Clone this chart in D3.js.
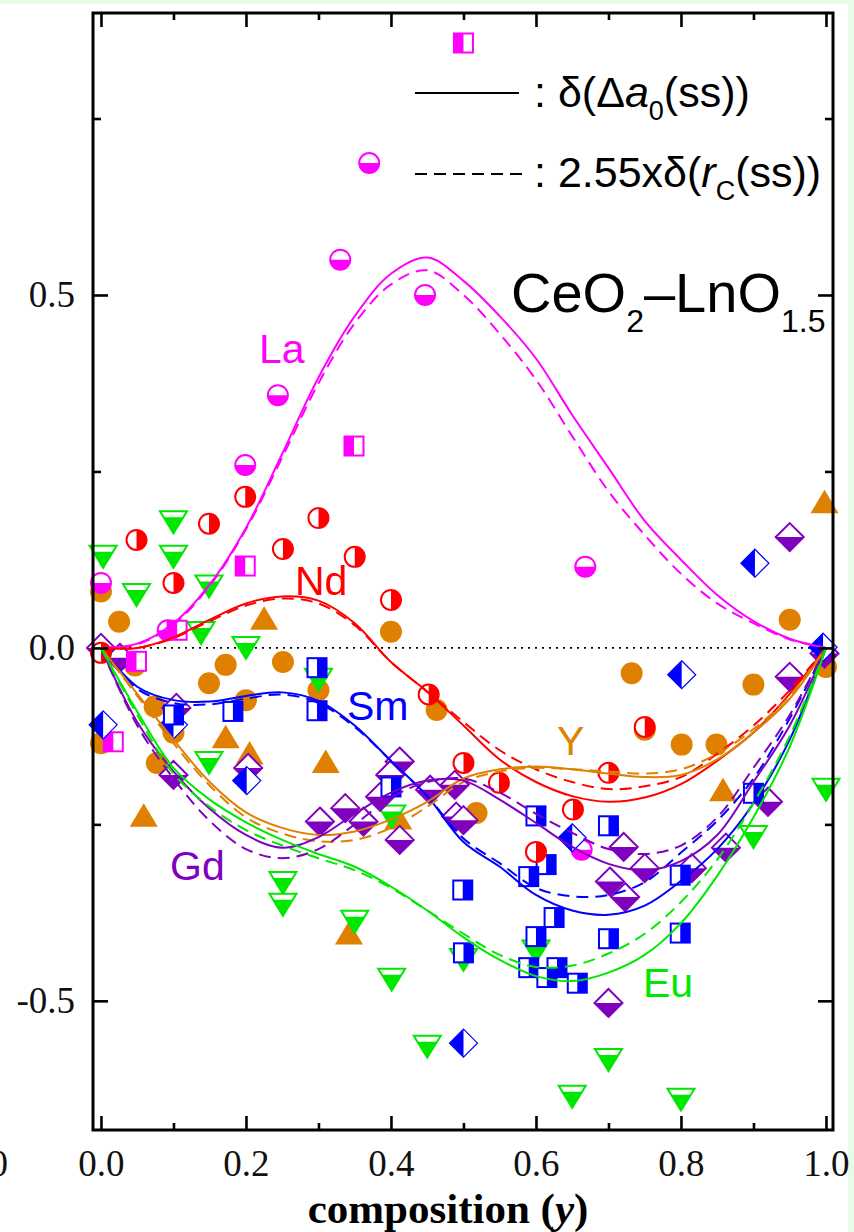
<!DOCTYPE html>
<html>
<head>
<meta charset="utf-8">
<script src="https://cdn.jsdelivr.net/npm/d3@7"></script>
<style>
  body { margin: 0; background: #fff; }
  text { font-family: "Liberation Sans", Arial, sans-serif; }
  .tick text { font-family: "Liberation Serif", "Times New Roman", serif; font-size: 37px; fill: #111; }
</style>
</head>
<body>
<svg id="chart" width="854" height="1232"></svg>
<script>
// composition grid for the model curves
const xGrid = [0, 0.05, 0.1, 0.15, 0.2, 0.25, 0.3, 0.35, 0.4, 0.45, 0.5,
  0.55, 0.6, 0.65, 0.7, 0.75, 0.8, 0.85, 0.9, 0.95, 1.0];

// solid: delta(Δa0(ss)), dashed: 2.55 x delta(rc(ss))
const laSolid = [0, 0.006, 0.035, 0.09, 0.17, 0.275, 0.383, 0.47, 0.53, 0.553, 0.52,
  0.47, 0.41, 0.33, 0.255, 0.18, 0.125, 0.075, 0.038, 0.013, 0];
const laDash = [0, 0.005, 0.033, 0.088, 0.168, 0.27, 0.375, 0.46, 0.515, 0.535, 0.5,
  0.445, 0.38, 0.3, 0.222, 0.16, 0.105, 0.063, 0.035, 0.012, 0];
const ndSolid = [0, 0, 0.015, 0.04, 0.063, 0.073, 0.067, 0.035, -0.02, -0.062, -0.11,
  -0.158, -0.19, -0.21, -0.218, -0.212, -0.193, -0.16, -0.12, -0.065, 0];
const ndDash = [0, 0, 0.014, 0.038, 0.06, 0.07, 0.063, 0.032, -0.02, -0.062, -0.105,
  -0.145, -0.172, -0.19, -0.2, -0.196, -0.183, -0.15, -0.11, -0.06, 0];
const smSolid = [0, -0.055, -0.074, -0.076, -0.068, -0.063, -0.075, -0.11, -0.16, -0.21, -0.275,
  -0.31, -0.35, -0.372, -0.378, -0.365, -0.33, -0.285, -0.22, -0.13, 0];
const smDash = [0, -0.058, -0.078, -0.08, -0.072, -0.066, -0.078, -0.112, -0.16, -0.21, -0.27,
  -0.305, -0.34, -0.352, -0.35, -0.332, -0.29, -0.245, -0.185, -0.1, 0];
const ySolid = [0, -0.065, -0.13, -0.19, -0.233, -0.255, -0.265, -0.26, -0.243, -0.218, -0.185,
  -0.172, -0.168, -0.172, -0.178, -0.183, -0.18, -0.158, -0.12, -0.072, 0];
const yDash = [0, -0.068, -0.135, -0.195, -0.24, -0.263, -0.274, -0.272, -0.255, -0.225, -0.19,
  -0.175, -0.17, -0.172, -0.175, -0.178, -0.172, -0.15, -0.115, -0.068, 0];
const gdSolid = [0, -0.105, -0.175, -0.228, -0.265, -0.283, -0.268, -0.235, -0.205, -0.188, -0.188,
  -0.215, -0.248, -0.282, -0.306, -0.315, -0.302, -0.265, -0.19, -0.11, 0];
const gdDash = [0, -0.11, -0.185, -0.245, -0.285, -0.298, -0.285, -0.25, -0.212, -0.19, -0.185,
  -0.205, -0.235, -0.262, -0.285, -0.292, -0.28, -0.24, -0.17, -0.095, 0];
const euSolid = [0, -0.09, -0.17, -0.215, -0.247, -0.272, -0.292, -0.31, -0.338, -0.372, -0.41,
  -0.442, -0.465, -0.472, -0.46, -0.435, -0.39, -0.323, -0.24, -0.14, 0];
const euDash = [0, -0.095, -0.178, -0.225, -0.258, -0.28, -0.298, -0.315, -0.34, -0.372, -0.405,
  -0.435, -0.452, -0.45, -0.433, -0.405, -0.36, -0.3, -0.22, -0.125, 0];

// measured points [y, value]
const laCircles = [[0.0, 0.092], [0.092, 0.025], [0.199, 0.259], [0.244, 0.358], [0.33, 0.55],
  [0.37, 0.687], [0.447, 0.5], [0.668, 0.115], [0.663, -0.286]];
const laSquares = [[0.5, 0.857], [0.349, 0.286], [0.199, 0.116], [0.105, 0.025], [0.049, -0.019], [0.017, -0.133]];
const ndCircles = [[0.0, -0.007], [0.049, 0.153], [0.1, 0.092], [0.149, 0.176], [0.199, 0.214],
  [0.251, 0.14], [0.3, 0.184], [0.35, 0.129], [0.4, 0.068], [0.452, -0.066], [0.5, -0.163],
  [0.549, -0.191], [0.6, -0.289], [0.651, -0.229], [0.7, -0.177], [0.75, -0.112]];
const smSquares = [[0.298, -0.028], [0.182, -0.09], [0.298, -0.089], [0.1, -0.095], [0.4, -0.197],
  [0.6, -0.238], [0.7, -0.252], [0.614, -0.307], [0.59, -0.324], [0.799, -0.322], [0.9, -0.206],
  [0.499, -0.343], [0.625, -0.382], [0.6, -0.409], [0.7, -0.412], [0.799, -0.404], [0.5, -0.432],
  [0.59, -0.453], [0.629, -0.453], [0.615, -0.467], [0.657, -0.475]];
const smDiamonds = [[0.003, -0.109], [0.1, -0.109], [0.201, -0.188], [0.65, -0.269], [0.801, -0.038],
  [0.5, -0.56], [0.902, 0.12], [0.996, 0.001]];
const yCircles = [[0.0, 0.08], [0.025, 0.037], [0.4, 0.023], [0.172, -0.024], [0.251, -0.02],
  [0.047, -0.025], [0.3, -0.06], [0.149, -0.05], [0.463, -0.088], [0.074, -0.083], [0.1, -0.12],
  [0.2, -0.074], [0.0, -0.135], [0.077, -0.163], [0.732, -0.036], [0.9, -0.052], [0.75, -0.116],
  [0.801, -0.137], [0.849, -0.137], [0.518, -0.234], [0.95, 0.04], [1.0, -0.027]];
const yTriangles = [[0.225, 0.042], [0.172, -0.126], [0.205, -0.149], [0.31, -0.161], [0.059, -0.237],
  [0.41, -0.241], [0.342, -0.404], [0.858, -0.201], [0.998, 0.207]];
const gdDiamonds = [[0.0, 0.0], [0.026, -0.014], [0.104, -0.085], [0.203, -0.17], [0.1, -0.18],
  [0.412, -0.161], [0.399, -0.18], [0.454, -0.201], [0.385, -0.211], [0.362, -0.246], [0.337, -0.227],
  [0.302, -0.246], [0.412, -0.272], [0.488, -0.194], [0.49, -0.239], [0.5, -0.244], [0.721, -0.282],
  [0.75, -0.312], [0.702, -0.331], [0.723, -0.353], [0.862, -0.283], [0.815, -0.312], [0.92, -0.218],
  [0.95, -0.041], [0.7, -0.503], [0.95, 0.157], [0.998, -0.008]];
const euTriangles = [[0.1, 0.178], [0.003, 0.129], [0.1, 0.129], [0.049, 0.075], [0.149, 0.087],
  [0.138, 0.021], [0.2, 0.0], [0.3, -0.045], [0.149, -0.163], [0.401, -0.239], [0.251, -0.333],
  [0.251, -0.364], [0.35, -0.388], [0.401, -0.47], [0.45, -0.565], [0.5, -0.442], [0.6, -0.43],
  [0.9, -0.268], [1.0, -0.201], [0.7, -0.584], [0.65, -0.636], [0.8, -0.64]];

const xMajor = [0, 0.2, 0.4, 0.6, 0.8, 1.0];
const xMinor = [0.1, 0.3, 0.5, 0.7, 0.9];
const yMajor = [-0.5, 0, 0.5];
const yMinor = [-0.25, 0.25, 0.75];

const color = { La: "#ff00ff", Nd: "#ff0000", Sm: "#0000ff", Y: "#e08000", Gd: "#8000c0", Eu: "#00e800" };

const margin = { top: 13, right: 21, bottom: 102, left: 93 },
  width = 854 - margin.left - margin.right,
  height = 1232 - margin.top - margin.bottom;

const svg = d3.select("#chart");

// pale green page border at top and right
svg.append("rect").attr("width", 854).attr("height", 1232).attr("fill", "#e8fbe6");
svg.append("rect").attr("y", 4).attr("width", 848).attr("height", 1228).attr("fill", "#fff");

const x = d3.scaleLinear().domain([-0.011, 1.0097]).range([margin.left, margin.left + width]);
const y = d3.scaleLinear().domain([-0.683, 0.8995]).range([margin.top + height, margin.top]);

// zero line
svg.append("line")
  .attr("x1", x(0)).attr("x2", x(1))
  .attr("y1", y(0)).attr("y2", y(0))
  .attr("stroke", "#000").attr("stroke-width", 1.6)
  .attr("stroke-dasharray", "2,5");

// ---- markers ----
const gMarks = svg.append("g");
const R = 10, S = 9.5, D = 14;

function place(data) {
  return gMarks.append("g").selectAll("g").data(data).enter().append("g")
    .attr("transform", d => `translate(${x(d[0])},${y(d[1])})`);
}

function circles(data, c, half) {
  const g = place(data);
  g.append("circle").attr("r", R).attr("fill", "#fff").attr("stroke", c).attr("stroke-width", 2);
  const p = half === "bottom" ? `M${-R},0 A${R},${R} 0 0 0 ${R},0 Z` : `M0,${-R} A${R},${R} 0 0 1 0,${R} Z`;
  g.append("path").attr("d", p).attr("fill", c);
}
function filledCircles(data, c) {
  place(data).append("circle").attr("r", R + 1).attr("fill", c);
}
function squares(data, c, filledSide) {
  const g = place(data);
  g.append("rect").attr("x", -S).attr("y", -S).attr("width", 2 * S).attr("height", 2 * S)
    .attr("fill", "#fff").attr("stroke", c).attr("stroke-width", 2);
  g.append("rect").attr("x", filledSide === "left" ? -S : 0).attr("y", -S)
    .attr("width", S).attr("height", 2 * S).attr("fill", c);
}
function diamonds(data, c, filledSide) {
  const g = place(data);
  g.append("path").attr("d", `M0,${-D} L${D},0 L0,${D} L${-D},0 Z`)
    .attr("fill", "#fff").attr("stroke", c).attr("stroke-width", filledSide === "left" ? 1.2 : 2);
  g.append("path").attr("fill", c)
    .attr("d", filledSide === "left" ? `M0,${-D} L0,${D} L${-D},0 Z` : `M${-D},0 L${D},0 L0,${D} Z`);
}
function downTriangles(data, c) {
  const g = place(data);
  g.append("path").attr("d", "M-13.5,-11 L13.5,-11 L0,11 Z")
    .attr("fill", "#fff").attr("stroke", c).attr("stroke-width", 2);
  g.append("path").attr("d", "M-9.8,-5 L9.8,-5 L0,11 Z").attr("fill", c);
}
function upTriangles(data, c) {
  place(data).append("path").attr("d", "M-14,11.5 L14,11.5 L0,-12 Z").attr("fill", c);
}

filledCircles(yCircles, color.Y);
upTriangles(yTriangles, color.Y);
downTriangles(euTriangles, color.Eu);
diamonds(gdDiamonds, color.Gd, "bottom");
circles(laCircles, color.La, "bottom");
squares(laSquares, color.La, "left");
diamonds(smDiamonds, color.Sm, "left");
squares(smSquares, color.Sm, "right");
circles(ndCircles, color.Nd, "right");

// ---- model curves ----
const line = d3.line().x((d, i) => x(xGrid[i])).y(d => y(d)).curve(d3.curveCatmullRom);
const curves = [
  [laSolid, laDash, color.La], [ndSolid, ndDash, color.Nd], [smSolid, smDash, color.Sm],
  [ySolid, yDash, color.Y], [gdSolid, gdDash, color.Gd], [euSolid, euDash, color.Eu]
];
curves.forEach(([solid, dash, c]) => {
  svg.append("path").attr("d", line(dash)).attr("fill", "none").attr("stroke", c)
    .attr("stroke-width", 2).attr("stroke-dasharray", "12,7");
  svg.append("path").attr("d", line(solid)).attr("fill", "none").attr("stroke", c)
    .attr("stroke-width", 2);
});

// ---- axes ----
const fmt = d => d.toFixed(1);
function axis(gen, tx, ty) {
  const g = svg.append("g").attr("transform", `translate(${tx},${ty})`).call(gen);
  g.select(".domain").remove();
  g.selectAll(".tick line").attr("stroke", "#000").attr("stroke-width", 2.6);
  return g;
}
const bottomY = margin.top + height, rightX = margin.left + width;
axis(d3.axisBottom(x).tickValues(xMajor).tickSize(-14).tickPadding(20).tickFormat(fmt), 0, bottomY);
axis(d3.axisBottom(x).tickValues(xMinor).tickSize(-7).tickFormat(""), 0, bottomY);
axis(d3.axisTop(x).tickValues(xMajor).tickSize(-14).tickFormat(""), 0, margin.top);
axis(d3.axisTop(x).tickValues(xMinor).tickSize(-7).tickFormat(""), 0, margin.top);
axis(d3.axisLeft(y).tickValues(yMajor).tickSize(-15).tickPadding(18).tickFormat(fmt), margin.left, 0);
axis(d3.axisLeft(y).tickValues(yMinor).tickSize(-8).tickFormat(""), margin.left, 0);
axis(d3.axisRight(y).tickValues(yMajor).tickSize(-15).tickFormat(""), rightX, 0);
axis(d3.axisRight(y).tickValues(yMinor).tickSize(-8).tickFormat(""), rightX, 0);

svg.append("rect")
  .attr("x", margin.left).attr("y", margin.top).attr("width", width).attr("height", height)
  .attr("fill", "none").attr("stroke", "#000").attr("stroke-width", 3);

// neighbouring panel's label, cut at the left edge
svg.append("text").attr("x", 8).attr("y", 1176).attr("text-anchor", "end")
  .style("font-family", "Liberation Serif, serif").style("font-size", "37px").attr("fill", "#111").text("1.0");

// x axis title
const xt = svg.append("text").attr("x", 448).attr("y", 1223).attr("text-anchor", "middle")
  .style("font-family", "Liberation Serif, serif").style("font-size", "43px").style("font-weight", "bold");
xt.append("tspan").text("composition (");
xt.append("tspan").style("font-style", "italic").text("y");
xt.append("tspan").text(")");

// ---- legend ----
svg.append("line").attr("x1", 415).attr("x2", 519).attr("y1", 93).attr("y2", 93)
  .attr("stroke", "#000").attr("stroke-width", 2.2);
svg.append("line").attr("x1", 415).attr("x2", 522).attr("y1", 174).attr("y2", 174)
  .attr("stroke", "#000").attr("stroke-width", 2.2).attr("stroke-dasharray", "12,7");

const l1 = svg.append("text").attr("x", 534).attr("y", 107).style("font-size", "43px");
l1.append("tspan").text(": δ(Δ");
l1.append("tspan").style("font-style", "italic").text("a");
l1.append("tspan").attr("dy", 13).style("font-size", "27px").text("0");
l1.append("tspan").attr("dy", -13).text("(ss))");

const l2 = svg.append("text").attr("x", 534).attr("y", 187).style("font-size", "43px");
l2.append("tspan").text(": 2.55xδ(");
l2.append("tspan").style("font-style", "italic").text("r");
l2.append("tspan").attr("dy", 13).style("font-size", "27px").text("C");
l2.append("tspan").attr("dy", -13).text("(ss))");

const t = svg.append("text").attr("x", 511).attr("y", 312).style("font-size", "56px");
t.append("tspan").text("CeO");
t.append("tspan").attr("dy", 20).style("font-size", "32px").text("2");
t.append("tspan").attr("dy", -20).text("–LnO");
t.append("tspan").attr("dy", 20).style("font-size", "32px").text("1.5");

// series labels
const seriesLabels = [["La", 259, 363], ["Nd", 295, 595], ["Sm", 347, 720],
  ["Y", 557, 755], ["Gd", 170, 880], ["Eu", 643, 997]];
svg.selectAll(".slabel").data(seriesLabels).enter().append("text")
  .attr("class", "slabel")
  .attr("x", d => d[1]).attr("y", d => d[2])
  .style("font-size", "41px")
  .attr("fill", d => color[d[0]])
  .text(d => d[0]);
</script>
</body>
</html>
